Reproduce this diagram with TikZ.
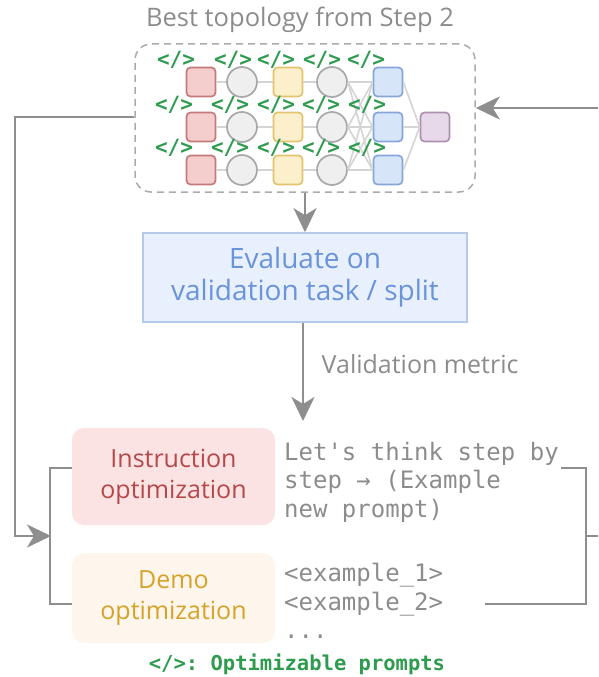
\documentclass[tikz,border=0pt]{standalone}
\usepackage{fontspec}
\setmainfont{Open Sans}
\setmonofont{DejaVu Sans Mono}
\usetikzlibrary{arrows.meta}

\definecolor{linegray}{HTML}{8E8E8E}
\definecolor{netline}{HTML}{D4D4D4}
\definecolor{dashgray}{HTML}{ABABAB}
\definecolor{redfill}{HTML}{F4CDCD}
\definecolor{redline}{HTML}{C47A7A}
\definecolor{yelfill}{HTML}{FCEFCB}
\definecolor{yelline}{HTML}{E2C46E}
\definecolor{bluefill}{HTML}{D7E5F9}
\definecolor{blueline}{HTML}{86A6DA}
\definecolor{purfill}{HTML}{E8D9EA}
\definecolor{purline}{HTML}{AD8FB0}
\definecolor{circfill}{HTML}{EFEFEF}
\definecolor{circline}{HTML}{A9A9A9}
\definecolor{taggreen}{HTML}{2E9B4E}
\definecolor{evalfill}{HTML}{E8F0FD}
\definecolor{evaldraw}{HTML}{B5C9EA}
\definecolor{evaltext}{HTML}{6A93DB}
\definecolor{instrfill}{HTML}{FBE3E3}
\definecolor{instrtext}{HTML}{B5484A}
\definecolor{demofill}{HTML}{FEF6EC}
\definecolor{demotext}{HTML}{D5A32A}
\definecolor{textgray}{HTML}{8C8C8C}

\tikzset{
  sqnode/.style={rectangle, rounded corners=4pt, minimum size=29pt, inner sep=0pt, line width=1.7pt},
  redsq/.style={sqnode, fill=redfill, draw=redline},
  yelsq/.style={sqnode, fill=yelfill, draw=yelline},
  bluesq/.style={sqnode, fill=bluefill, draw=blueline},
  pursq/.style={sqnode, fill=purfill, draw=purline},
  circnode/.style={circle, minimum size=30pt, inner sep=0pt, line width=1.7pt, fill=circfill, draw=circline},
  tag/.style={text=taggreen, font=\ttfamily\bfseries\fontsize{21}{21}\selectfont, inner sep=0pt},
  netedge/.style={draw=netline, line width=1.6pt},
  flow/.style={draw=linegray, line width=2.8pt, -{Stealth[length=24pt,width=23pt,inset=7pt]}},
  plain/.style={draw=linegray, line width=2.8pt},
  monotext/.style={text=textgray, font=\ttfamily\fontsize{24}{28.5}\selectfont, align=left, anchor=west, inner sep=0pt},
  optbox/.style={rectangle, rounded corners=12pt, minimum width=203pt, align=center, font=\fontsize{25}{31}\selectfont},
}

\begin{document}
\begin{tikzpicture}[x=1pt, y=-1pt]
\useasboundingbox (0,0) rectangle (598,677);

% title and dashed frame of the network
\node[text=textgray, font=\fontsize{25.5}{25.5}\selectfont] (title) at (300,20) {Best topology from Step 2};
\node[draw=dashgray, dash pattern=on 7pt off 5pt, line width=1.5pt, rounded corners=16pt,
      minimum width=340pt, minimum height=148pt] (topo) at (305,118) {};

% network nodes: three rows of red, circle, yellow, circle, blue
\foreach \r/\yy in {1/82, 2/127, 3/170} {
  \node[redsq]  (r\r)  at (201,\yy) {};
  \node[circnode] (c\r) at (242,\yy) {};
  \node[yelsq]  (y\r)  at (288,\yy) {};
  \node[circnode] (d\r) at (332,\yy) {};
  \node[bluesq] (b\r)  at (388,\yy) {};
}
\node[pursq] (p) at (435,127) {};

% row links
\foreach \r in {1,2,3} {
  \draw[netedge] (r\r) -- (c\r);
  \draw[netedge] (c\r) -- (y\r);
  \draw[netedge] (y\r) -- (d\r);
}
% fully connected layer
\foreach \i in {1,2,3} {
  \foreach \j in {1,2,3} {
    \draw[netedge] (d\i.east) -- (b\j.west);
  }
  \draw[netedge] (b\i.east) -- (p.west);
}

% optimizable prompt tags
\foreach \x [count=\k] in {176,233,276,322,366} {
  \node[tag] (ta\k) at (\x,60) {</>};
}
\foreach \x [count=\k] in {174,230,276,321,367} {
  \node[tag] (tb\k) at (\x,105) {</>};
  \node[tag] (tc\k) at (\x,148) {</>};
}

% evaluation step
\node[rectangle, fill=evalfill, draw=evaldraw, line width=1.6pt, minimum width=324pt, minimum height=89pt,
      align=center, text=evaltext, font=\fontsize{28}{32}\selectfont] (eval) at (305,277.5)
      {Evaluate on\\validation task / split};
\draw[flow] (topo.south -| eval.north) -- (eval.north);

% validation metric arrow
\coordinate (metricend) at (303,421);
\draw[flow] (eval.south -| metricend) -- (metricend)
  node[pos=0.42, right=14pt, text=textgray, font=\fontsize{25}{25}\selectfont] (metric) {Validation metric};

% optimization boxes
\node[optbox, fill=instrfill, text=instrtext, minimum height=97pt] (instr) at (173.5,476.5) {Instruction\\optimization};
\node[optbox, fill=demofill, text=demotext, minimum height=90pt] (demo) at (173.5,598) {Demo\\optimization};

% prompt examples
\node[monotext] (instrtxt) at (284,482) {Let's think step by\\step → (Example\\new prompt)};
\node[monotext] (demotxt) at (284,601) {<example\_1>\\<example\_2>\\...};

% legend
\node[text=taggreen, font=\ttfamily\bfseries\fontsize{20.5}{20.5}\selectfont] (legend) at (297,664) {</>: Optimizable prompts};

% feedback loop on the left
\coordinate (lcorner) at (15,117);
\coordinate (ljoin) at (51,536);
\draw[flow] (topo.west |- lcorner) -- (lcorner) |- (ljoin);
\coordinate (ltop) at (50,468);
\coordinate (lbot) at (50,604);
\draw[plain] (instr.west |- ltop) -- (ltop) -- (lbot) -- (demo.west |- lbot);

% bracket on the right
\coordinate (rtopin) at (561,468);
\coordinate (rtop) at (586,468);
\coordinate (rbot) at (586,604);
\coordinate (rbotin) at (485,604);
\coordinate (rmid) at (586,536);
\coordinate (redge) at (598,536);
\draw[plain] (rtopin) -- (rtop) -- (rbot) -- (rbotin);
\draw[plain] (rmid) -- (redge);

% return arrow into the network
\coordinate (rin) at (598,108);
\draw[flow] (rin) -- (topo.east |- rin);
\end{tikzpicture}
\end{document}
